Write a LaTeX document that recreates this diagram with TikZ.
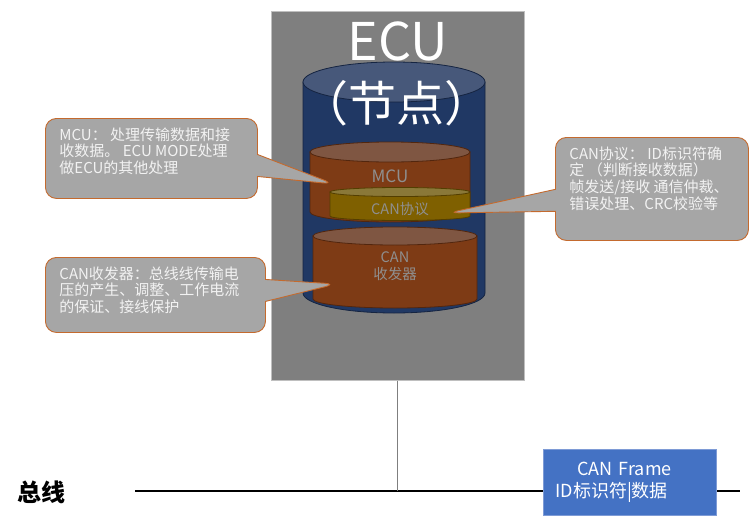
\documentclass[tikz,border=0pt]{standalone}
\usepackage{fontspec}
\setmainfont{Noto Sans CJK SC}
\usepackage{tikz}
\usetikzlibrary{shapes.callouts}
\definecolor{boxgray}{HTML}{7F7F7F}
\definecolor{navybody}{HTML}{203864}
\definecolor{navytop}{HTML}{47587A}
\definecolor{brownbody}{HTML}{7E3B15}
\definecolor{browntop}{HTML}{7F5642}
\definecolor{olivebody}{HTML}{7F6000}
\definecolor{olivetop}{HTML}{8A7838}
\definecolor{cyltxt}{HTML}{8F8F8F}
\definecolor{notegray}{HTML}{A6A6A6}
\definecolor{noteedge}{HTML}{C46A2E}
\definecolor{framefill}{HTML}{4472C4}
\definecolor{frameedge}{HTML}{7E9BD6}
\tikzset{%
    ecubox/.style={rectangle,fill=boxgray,draw=black!25,line width=0.6pt,inner sep=0pt},
    title/.style={text=white,inner sep=0pt},
    cyltext/.style={text=cyltxt,inner sep=0pt,align=center},
    note/.style={rectangle callout,rounded corners=11pt,fill=notegray,draw=noteedge,
        line width=0.9pt,text=white!95!black,anchor=north west,inner xsep=14pt,inner ysep=9pt,
        callout pointer width=22pt,font=\fontsize{15}{16.8}\selectfont},
    frame/.style={rectangle,fill=framefill,draw=frameedge,line width=0.8pt,text=white,
        align=left,inner xsep=12pt,font=\fontsize{18}{22}\selectfont}
}
% drum: x centre, top y, bottom y, x radius, y radius, body colour, top colour
\newcommand{\drum}[7]{%
    \filldraw[fill=#6,draw=#6!65!black,line width=0.8pt] (#1-#4,#2) -- (#1-#4,#3)
        arc[start angle=180,end angle=360,x radius=#4pt,y radius=#5pt] -- (#1+#4,#2) -- cycle;
    \filldraw[fill=#7,draw=#6!65!black,line width=0.8pt] (#1,#2) ellipse[x radius=#4pt,y radius=#5pt];
}
\newcommand{\notebox}[3]{\begin{minipage}[c][#2pt][t]{#1pt}\raggedright #3\end{minipage}}

\begin{document}
\begin{tikzpicture}[x=1pt,y=-1pt]
    \useasboundingbox (0,0) rectangle (749,519);

    \node[ecubox,minimum width=253pt,minimum height=369pt,anchor=north west] (ecu) at (271,11){};

    % cylinders
    \drum{394}{82}{293}{91}{20}{navybody}{navytop}
    \drum{390}{152}{212}{80}{10}{brownbody}{browntop}
    \drum{400}{192}{216}{70}{4.5}{olivebody}{olivetop}
    \drum{395}{236}{299}{82}{9}{brownbody}{browntop}

    \node[title,font=\fontsize{52}{52}\selectfont] (ecuname) at (398,41.5){ECU};
    \node[title,font=\fontsize{48}{48}\selectfont] (ecunode) at (396,103){（节点）};

    \node[cyltext,font=\fontsize{17}{17}\selectfont] (mcu) at (390,176){MCU};
    \node[cyltext,font=\fontsize{14.5}{14.5}\selectfont] (proto) at (400,209){CAN协议};
    \node[cyltext,font=\fontsize{14.5}{17}\selectfont] (trx) at (395,266){CAN\\收发器};

    % bus
    \coordinate (busL) at (135,491);
    \coordinate (busR) at (740,491);
    \coordinate (tap) at (ecu.south |- busL);
    \draw[line width=1.4pt] (busL) -- (busR);
    \draw[boxgray,line width=0.8pt] (ecu.south) -- (tap);
    \node[font=\fontsize{24}{24}\selectfont\bfseries] (bus) at (41,492){总线};
    \node[frame,text width=149pt,minimum width=173pt,minimum height=66pt,anchor=north west] (frame) at (543,449)
        {\hspace*{22pt}CAN Frame\\ID标识符|数据};

    % callouts
    \coordinate (mcutip) at (334,184);
    \coordinate (trxtip) at (336,284);
    \coordinate (prototip) at (448,213);
    \node[note,callout absolute pointer=(mcutip)] (mcunote) at (45,118)
        {\notebox{184}{62}{MCU： 处理传输数据和接\\收数据。 ECU MODE处理\\做ECU的其他处理}};
    \node[note,callout absolute pointer=(trxtip)] (trxnote) at (45,257)
        {\notebox{192}{57}{CAN收发器：总线线传输电\\压的产生、调整、工作电流\\的保证、接线保护}};
    \node[note,callout absolute pointer=(prototip)] (protonote) at (555,137)
        {\notebox{165}{85}{CAN协议： ID标识符确\\定 （判断接收数据）\\帧发送/接收 通信仲裁、\\错误处理、CRC校验等}};
\end{tikzpicture}
\end{document}
